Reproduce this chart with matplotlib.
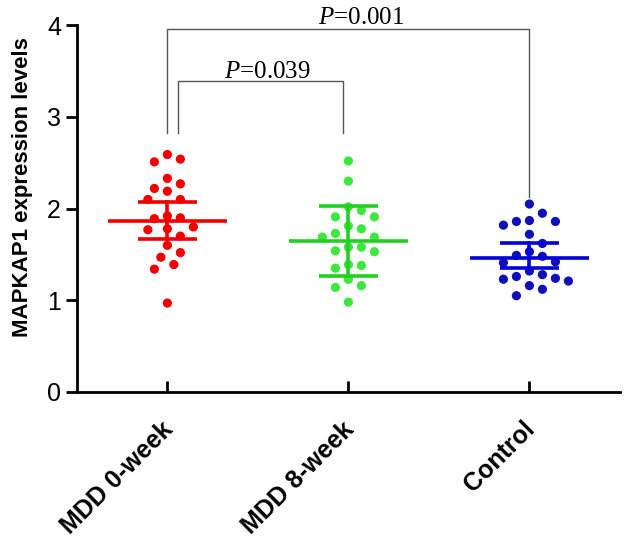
import numpy as np
import matplotlib
matplotlib.use('Agg')
import matplotlib.pyplot as plt
from matplotlib.transforms import ScaledTranslation

plt.rcParams['font.family'] = ['Liberation Sans', 'DejaVu Sans']
plt.rcParams['mathtext.fontset'] = 'custom'
plt.rcParams['mathtext.it'] = 'Liberation Serif:italic'
plt.rcParams['mathtext.rm'] = 'Liberation Serif'

# 数据
groups = ['MDD 0-week', 'MDD 8-week', 'Control']

mdd0 = [2.54, 2.51, 2.59, 2.33, 2.22, 2.27, 2.19, 2.10, 2.10, 1.92, 1.89,
        1.90, 1.80, 1.77, 1.78, 1.70, 1.60, 1.52, 1.47, 1.39, 1.34, 0.97]
mdd8 = [2.52, 2.30, 2.02, 1.98, 1.91, 1.91, 1.81, 1.78, 1.73, 1.69, 1.69,
        1.58, 1.58, 1.54, 1.53, 1.39, 1.38, 1.35, 1.23, 1.16, 1.14, 0.98]
control = [2.05, 1.95, 1.86, 1.82, 1.86, 1.87, 1.72, 1.62, 1.53, 1.48, 1.49,
           1.41, 1.42, 1.32, 1.26, 1.23, 1.28, 1.24, 1.21, 1.16, 1.12, 1.05]

means = [1.86, 1.645, 1.46]
err_low = [1.67, 1.27, 1.35]
err_high = [2.07, 2.03, 1.62]

p_labels = ['0.039', '0.001']

dot_colors = ['#f20000', '#3de83d', '#1010b8']
line_colors = ['#f20000', '#22d022', '#0000dd']

# 像素尺度（用于蜂群排列）
XPX = 181.0
YPX = 91.75


def swarm(vals, step=6.5, diam=12.5):
    ypx = np.asarray(vals) * YPX
    offs = np.zeros(len(vals))
    placed = []
    for i in np.argsort(-ypx):
        for k in range(40):
            cands = [0.0] if k == 0 else [k * step, -k * step]
            ok = None
            for c in cands:
                if all((c - px) ** 2 + (ypx[i] - py) ** 2 >= diam ** 2 for px, py in placed):
                    ok = c
                    break
            if ok is not None:
                offs[i] = ok
                placed.append((ok, ypx[i]))
                break
    return offs / XPX


fig = plt.figure(figsize=(6.3, 5.49), dpi=100)
ax = fig.add_axes([0.122, 0.286, 0.862, 0.668])

for i, vals in enumerate([mdd0, mdd8, control]):
    xo = swarm(vals)
    ax.scatter(i + xo, vals, s=44, color=dot_colors[i], edgecolors='none', zorder=3)
    ax.plot([i - 0.33, i + 0.33], [means[i]] * 2, color=line_colors[i], lw=2.6, zorder=4,
            solid_capstyle='butt')
    ax.plot([i, i], [err_low[i], err_high[i]], color=line_colors[i], lw=2.6, zorder=4)
    for yv in (err_low[i], err_high[i]):
        ax.plot([i - 0.165, i + 0.165], [yv, yv], color=line_colors[i], lw=2.6, zorder=4,
                solid_capstyle='butt')

# 显著性标注
bc = '#555555'
ax.plot([0.06, 0.06, 0.97, 0.97], [2.82, 3.39, 3.39, 2.82], color=bc, lw=1.0, clip_on=False)
ax.plot([0, 0, 2, 2], [2.82, 3.96, 3.96, 2.125], color=bc, lw=1.0, clip_on=False)
ax.text(0.55, 3.43, r'$\mathit{P}$=' + p_labels[0], ha='center', va='baseline', fontsize=18,
        family='Liberation Serif', clip_on=False)
ax.text(1.07, 4.01, r'$\mathit{P}$=' + p_labels[1], ha='center', va='baseline', fontsize=18,
        family='Liberation Serif', clip_on=False)

ax.set_xlim(-0.5, 2.5)
ax.set_ylim(0, 4)
ax.set_yticks([0, 1, 2, 3, 4])
ax.set_xticks(range(len(groups)))
ax.set_xticklabels(groups, rotation=45, ha='right', rotation_mode='anchor',
                   fontsize=18, fontweight='bold')
ax.tick_params(axis='y', labelsize=18, width=2, length=8, direction='out')
ax.tick_params(axis='x', width=2, length=8, direction='in', pad=18)
shift = ScaledTranslation(-7 / 100, 0, fig.dpi_scale_trans)
for lab in ax.get_xticklabels():
    lab.set_transform(lab.get_transform() + shift)
ax.set_ylabel('MAPKAP1 expression levels', fontsize=16, fontweight='bold')
ax.yaxis.set_label_coords(-0.08, 0.56)

for s in ['top', 'right']:
    ax.spines[s].set_visible(False)
for s in ['left', 'bottom']:
    ax.spines[s].set_linewidth(2)

fig.savefig('out.png', dpi=100)
